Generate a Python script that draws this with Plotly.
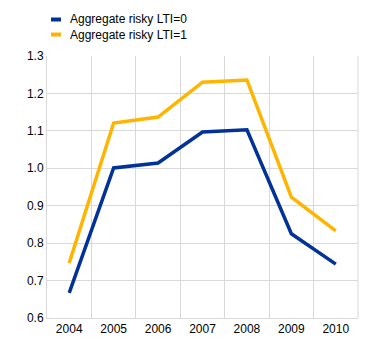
import plotly.graph_objects as go

years = ["2004", "2005", "2006", "2007", "2008", "2009", "2010"]
series_names = ["Aggregate risky LTI=0", "Aggregate risky LTI=1"]
lti0 = [0.667, 1.001, 1.014, 1.097, 1.103, 0.825, 0.744]
lti1 = [0.747, 1.121, 1.137, 1.230, 1.236, 0.923, 0.833]
colors = ["#003299", "#FFB400"]
y_ticks = [0.6, 0.7, 0.8, 0.9, 1.0, 1.1, 1.2, 1.3]

W, H = 372, 356
L, R, T, B = 39, 22, 48, 46
pw, ph = W - L - R, H - T - B

fig = go.Figure()
for name, vals, c in zip(series_names, [lti0, lti1], colors):
    fig.add_trace(go.Scatter(x=years, y=vals, mode="lines", name=name,
                             line=dict(color=c, width=3.5), showlegend=False))

# manual legend
for i, (name, c) in enumerate(zip(series_names, colors)):
    ypix = 11.5 + i * 15
    yp = (H - B - ypix) / ph
    x0 = (43 - L) / pw
    x1 = (53 - L) / pw
    fig.add_shape(type="line", xref="paper", yref="paper", x0=x0, x1=x1, y0=yp, y1=yp,
                  line=dict(color=c, width=4))
    fig.add_annotation(xref="paper", yref="paper", x=(60 - L) / pw, y=yp, text=name,
                       showarrow=False, xanchor="left", yanchor="middle",
                       font=dict(size=12, color="#000000", family="Liberation Sans, Arial"))

fig.update_layout(
    width=W, height=H,
    margin=dict(l=L, r=R, t=T, b=B),
    plot_bgcolor="white", paper_bgcolor="white",
    font=dict(family="Liberation Sans, Arial", size=12, color="#000000"),
    xaxis=dict(type="category", showgrid=False, showline=True, linecolor="#d9d9d9",
               linewidth=1, ticks="", tickson="boundaries", range=[-0.5, 6.5],
               tickfont=dict(size=12)),
    yaxis=dict(range=[0.6, 1.3], tickvals=y_ticks, tickformat=".1f", showgrid=True,
               gridcolor="#d9d9d9", gridwidth=1, showline=True, linecolor="#d9d9d9",
               zeroline=False, ticks="", tickfont=dict(size=12)),
)
# vertical gridlines at category boundaries
fig.update_xaxes(showgrid=True, gridcolor="#d9d9d9", gridwidth=1, mirror=False)
fig.add_shape(type="line", xref="paper", yref="paper", x0=1, x1=1, y0=0, y1=1,
              line=dict(color="#d9d9d9", width=1))

fig.write_html("out.html")
